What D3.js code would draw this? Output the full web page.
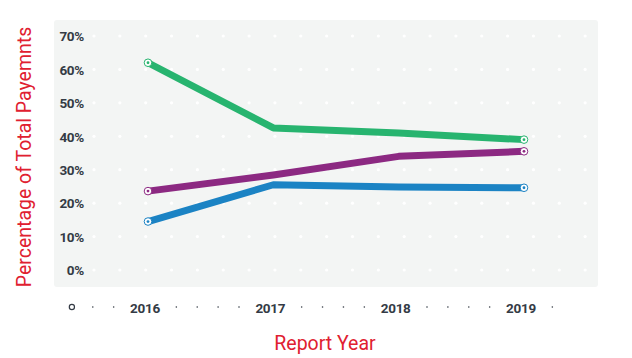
<!DOCTYPE html>
<html><head><meta charset="utf-8">
<script src="https://cdn.jsdelivr.net/npm/d3@7"></script>
<style>body{margin:0;background:#fff}svg{display:block}</style>
</head><body>
<svg id="c" width="632" height="358"></svg>
<script>
const years = ["2016","2017","2018","2019"];
const greenVals = [62, 42.5, 41, 39];
const purpleVals = [23.6, 28.4, 34, 35.5];
const blueVals = [14.5, 25.5, 24.8, 24.6];
const yTicks = [0,10,20,30,40,50,60,70];
const seriesNames = ["green","purple","blue"];
const colors = ["#27b46f","#8c2982","#1b83c4"];

const svg = d3.select("#c");
const x = d3.scalePoint().domain(years).range([148, 524]);
const y = d3.scaleLinear().domain([0,70]).range([270, 36]);

// panel
svg.append("rect").attr("x",54).attr("y",20).attr("width",544).attr("height",267)
  .attr("rx",3).attr("fill","#f3f5f4");

// dot grid
const gx = d3.range(20).map(k => 94 + k*25.85);
yTicks.forEach(t => gx.forEach(px => {
  svg.append("circle").attr("cx",px).attr("cy",y(t)).attr("r",1.6).attr("fill","#fff");
}));

// y tick labels
const yAxis = d3.axisLeft(y).tickValues(yTicks).tickFormat(d => d + "%").tickSize(0).tickPadding(0);
const ya = svg.append("g").attr("transform","translate(84,0)").call(yAxis);
ya.select(".domain").remove();
ya.selectAll("text").attr("font-family","Roboto, sans-serif").attr("font-weight",700)
  .attr("font-size",13.5).attr("fill","#343b45").attr("dy","0.35em").attr("letter-spacing","-0.3");

// x labels
const step = x.step();
const labelX = d => x(d) - 3;
const xg = svg.append("g");
years.forEach(yr => {
  xg.append("text").attr("x",labelX(yr)).attr("y",308).attr("text-anchor","middle")
    .attr("dy","0.35em").attr("font-family","Roboto, sans-serif").attr("font-weight",700)
    .attr("font-size",13.5).attr("fill","#343b45").attr("letter-spacing","-0.3").text(yr);
});
// decorative axis dots
const sub = step/6;
const x0 = labelX("2016");
d3.range(24).forEach(k => {
  if ([3,4,9,10,15,16,21,22].includes(k)) return;
  const px = x0 + (k-3.5)*sub;
  if (k===0) {
    xg.append("circle").attr("cx",px).attr("cy",307).attr("r",2.6).attr("fill","none")
      .attr("stroke","#343b45").attr("stroke-width",1.2);
  } else {
    xg.append("circle").attr("cx",px).attr("cy",307).attr("r",0.8).attr("fill","#343b45");
  }
});

// lines
const data = [greenVals, purpleVals, blueVals];
const line = d3.line().x((d,i) => x(years[i])).y(d => y(d));
data.forEach((vals,si) => {
  svg.append("path").attr("d", line(vals)).attr("fill","none")
    .attr("stroke", colors[si]).attr("stroke-width",7).attr("stroke-linejoin","round");
});
data.forEach((vals,si) => {
  [0, vals.length-1].forEach(i => {
    svg.append("circle").attr("cx",x(years[i])).attr("cy",y(vals[i])).attr("r",3.8)
      .attr("fill","#fff").attr("stroke",colors[si]).attr("stroke-width",1);
    svg.append("circle").attr("cx",x(years[i])).attr("cy",y(vals[i])).attr("r",1.4)
      .attr("fill",colors[si]);
  });
});

// titles
svg.append("text").attr("transform","translate(31,157) rotate(-90)").attr("text-anchor","middle")
  .attr("font-family","Roboto, sans-serif").attr("font-size",19.5).attr("fill","#e02030")
  .text("Percentage of Total Payemnts");
svg.append("text").attr("x",325).attr("y",350).attr("text-anchor","middle")
  .attr("font-family","Roboto, sans-serif").attr("font-size",19.5).attr("fill","#e02030")
  .text("Report Year");
</script>
</body></html>
